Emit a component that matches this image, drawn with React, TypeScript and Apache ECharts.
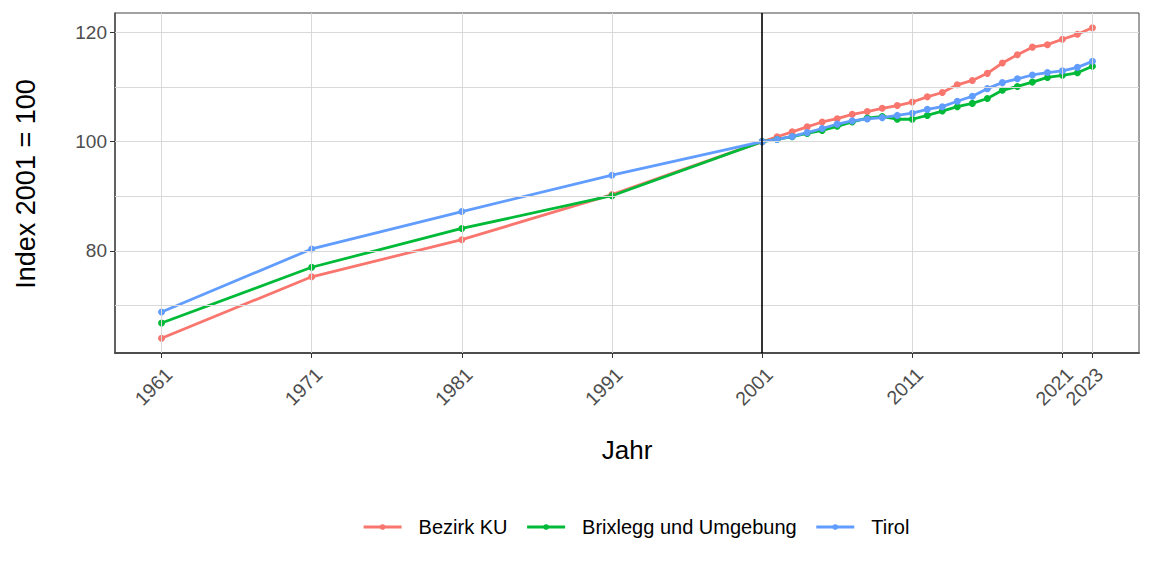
import React, { useEffect, useRef } from "react";
import * as echarts from "echarts";

const years = [1961, 1971, 1981, 1991, 2001, 2002, 2003, 2004, 2005, 2006, 2007, 2008, 2009, 2010, 2011, 2012, 2013, 2014, 2015, 2016, 2017, 2018, 2019, 2020, 2021, 2022, 2023];
const bezirkKU = [64.0, 75.25, 82.05, 90.3, 100, 100.9, 101.8, 102.7, 103.6, 104.2, 105.0, 105.5, 106.1, 106.6, 107.25, 108.2, 109.0, 110.4, 111.2, 112.5, 114.4, 115.9, 117.3, 117.75, 118.75, 119.65, 120.85];
const brixlegg = [66.8, 77.0, 84.1, 90.1, 100, 100.4, 100.9, 101.5, 102.05, 102.8, 103.6, 104.3, 104.6, 104.1, 104.1, 104.8, 105.6, 106.4, 107.0, 107.9, 109.4, 110.1, 110.9, 111.75, 112.15, 112.6, 113.8];
const tirol = [68.8, 80.35, 87.2, 93.85, 100, 100.4, 100.95, 101.65, 102.4, 103.2, 103.8, 104.15, 104.4, 104.8, 105.2, 105.9, 106.4, 107.4, 108.3, 109.7, 110.8, 111.5, 112.2, 112.65, 112.95, 113.6, 114.7];

const seriesNames = ["Bezirk KU", "Brixlegg und Umgebung", "Tirol"];
const seriesColors = ["#F8766D", "#00BA38", "#619CFF"];
const xBreaks = [1961, 1971, 1981, 1991, 2001, 2011, 2021, 2023];
const yBreaks = [80, 100, 120];
const yGrid = [70, 80, 90, 100, 110, 120];
const referenceYear = 2001;

const FONT = "'Liberation Sans', Arial, sans-serif";

export default function App() {
  const ref = useRef<HTMLDivElement>(null);
  useEffect(() => {
    if (!ref.current) return;
    const chart = echarts.init(ref.current, null, { renderer: "svg" });
    const seriesData = [bezirkKU, brixlegg, tirol];
    const dataSeries = seriesNames.map((name, i) => ({
      name,
      type: "line",
      z: 3,
      data: years.map((y, j) => [y, seriesData[i][j]]),
      symbol: "circle",
      symbolSize: 7,
      showSymbol: true,
      color: seriesColors[i],
      lineStyle: { width: 2.8, color: seriesColors[i] },
      itemStyle: { color: seriesColors[i] },
    }));
    const gridLineStyle = { color: "#d9d9d9", width: 1, type: "solid" as const };
    const gridSeries = {
      name: "_grid",
      type: "line",
      z: 1,
      data: [],
      silent: true,
      markLine: {
        silent: true,
        symbol: "none",
        label: { show: false },
        animation: false,
        lineStyle: gridLineStyle,
        data: [
          ...xBreaks.filter((x) => x !== referenceYear).map((x) => ({ xAxis: x, lineStyle: gridLineStyle })),
          ...yGrid.map((y) => ({ yAxis: y, lineStyle: gridLineStyle })),
        ],
      },
    };
    const vlineSeries = {
      name: "_vline",
      type: "line",
      z: 2,
      data: [],
      silent: true,
      markLine: {
        silent: true,
        symbol: "none",
        label: { show: false },
        animation: false,
        data: [{ xAxis: referenceYear, lineStyle: { color: "#000000", width: 1.6, type: "solid" } }],
      },
    };
    chart.setOption({
      animation: false,
      textStyle: { fontFamily: FONT },
      grid: {
        left: 115,
        right: 13,
        top: 13,
        bottom: 223,
        show: true,
        borderColor: "#444444",
        borderWidth: 1,
        backgroundColor: "#ffffff",
      },
      xAxis: {
        type: "value",
        min: 1957.9,
        max: 2026.1,
        splitLine: { show: false },
        axisLine: { show: true, onZero: false, lineStyle: { color: "#4d4d4d", width: 2 } },
        axisTick: { show: true, customValues: xBreaks, length: 5, lineStyle: { color: "#333333", width: 1 } },
        axisLabel: {
          customValues: xBreaks,
          rotate: 45,
          margin: 11,
          verticalAlign: "top",
          fontSize: 19.5,
          color: "#4d4d4d",
          fontFamily: FONT,
          formatter: (v: number) => String(Math.round(v)),
        },
      },
      yAxis: {
        type: "value",
        min: 61.3,
        max: 123.55,
        splitLine: { show: false },
        axisLine: { show: true, onZero: false, lineStyle: { color: "#4d4d4d", width: 1.5 } },
        axisTick: { show: true, customValues: yBreaks, length: 5, lineStyle: { color: "#333333", width: 1 } },
        axisLabel: {
          customValues: yBreaks,
          margin: 8,
          fontSize: 19,
          color: "#4d4d4d",
          fontFamily: FONT,
        },
      },
      legend: {
        data: seriesNames,
        left: 362,
        top: 517,
        padding: 0,
        itemWidth: 38,
        itemHeight: 7,
        itemGap: 18,
        lineStyle: { width: 3.2 },
        textStyle: { fontSize: 20, color: "#000000", fontFamily: FONT, padding: [0, 0, 0, 12] },
      },
      graphic: [
        {
          type: "text",
          x: 627,
          y: 450,
          style: { text: "Jahr", fontSize: 26, fontFamily: FONT, fill: "#000000", textAlign: "center", textVerticalAlign: "middle" },
        },
        {
          type: "text",
          x: 26,
          y: 184,
          rotation: Math.PI / 2,
          style: { text: "Index 2001 = 100", fontSize: 27, fontFamily: FONT, fill: "#000000", textAlign: "center", textVerticalAlign: "middle" },
        },
      ],
      series: [gridSeries, vlineSeries, ...dataSeries],
    });
    return () => chart.dispose();
  }, []);
  return <div ref={ref} style={{ position: "fixed", left: 0, top: 0, width: 1152, height: 576, background: "#fff" }} />;
}
